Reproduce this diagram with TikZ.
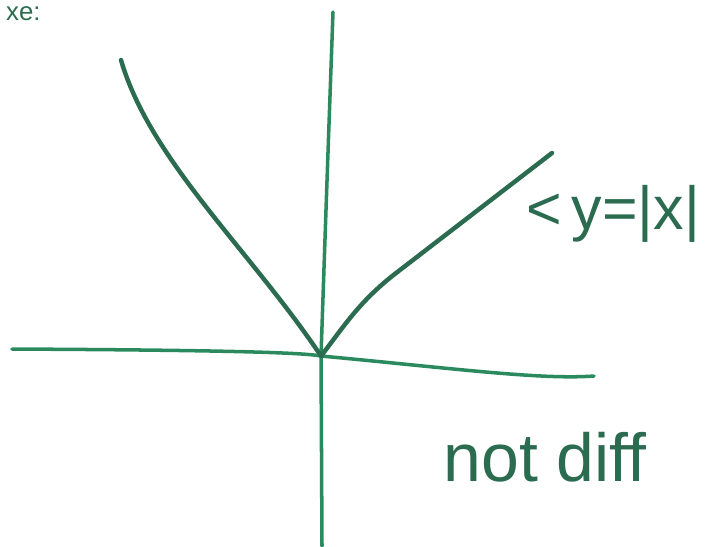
\documentclass[tikz,border=0pt]{standalone}
\usepackage{fontspec}
\setmainfont{Liberation Sans}
\usepackage{xcolor}
\usetikzlibrary{positioning}
\definecolor{pen}{HTML}{2A8A5E}
\definecolor{ink}{HTML}{2B6B4F}

\begin{document}
\begin{tikzpicture}[
  x=0.03cm,y=-0.03cm,
  axis/.style={draw=pen,line width=3pt,line cap=round},
  curve/.style={draw=ink,line width=3.8pt,line cap=round,line join=round},
  note/.style={text=ink,inner sep=0pt,font=\fontsize{58}{60}\selectfont}
]
\useasboundingbox (0,0) rectangle (707,546);
% axes
\coordinate (ytop) at (333,12);
\coordinate (ybot) at (322,546);
\coordinate (xl) at (12,349);
\coordinate (xr) at (594,376);
\coordinate (o) at (321,356);
\draw[axis] (ytop) .. controls (327,180) .. (o) -- (ybot);
\draw[axis] (xl) .. controls (200,350) and (300,352) .. (o) .. controls (450,368) and (540,380) .. (xr);
% the V
\coordinate (lend) at (121,60);
\coordinate (rend) at (552,153);
\draw[curve] (lend) .. controls (150,160) and (250,250) .. (o) .. controls (345,325) and (360,300) .. (400,270) -- (rend);
% labels
\node[note,anchor=west,font=\fontsize{52}{54}\selectfont] (lbl) at (526,214) {<\,y=|x|};
\node[note] (nd) at (545,457) {not diff};
\node[note,anchor=north west,font=\fontsize{22}{24}\selectfont] (ex) at (6,6) {xe:};
\end{tikzpicture}
\end{document}
